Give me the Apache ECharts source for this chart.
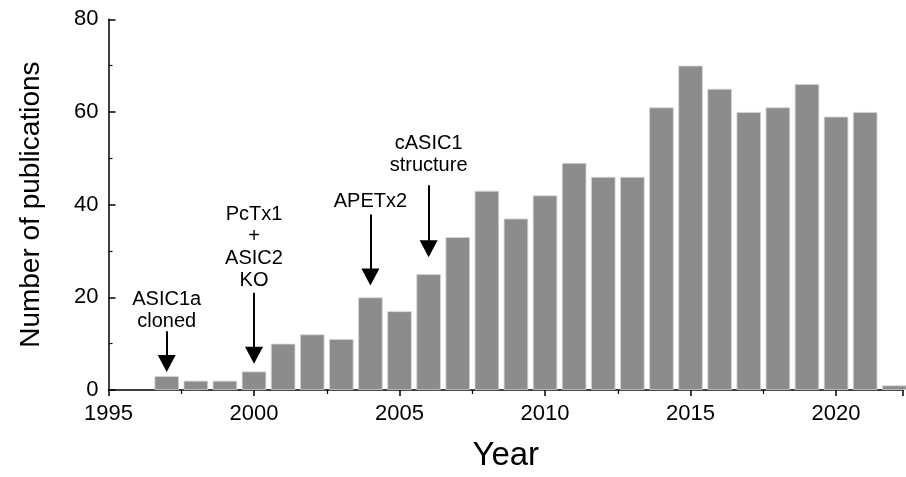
<!DOCTYPE html>
<html>
<head>
<meta charset="utf-8">
<script src="https://cdn.jsdelivr.net/npm/echarts@6/dist/echarts.min.js"></script>
<style>
html,body{margin:0;padding:0;background:#fff;}
#chart{width:906px;height:477px;}
</style>
</head>
<body>
<div id="chart"></div>
<script>
// Data
const years = [1997,1998,1999,2000,2001,2002,2003,2004,2005,2006,2007,2008,2009,2010,2011,2012,2013,2014,2015,2016,2017,2018,2019,2020,2021,2022];
const publications = [3,2,2,4,10,12,11,20,17,25,33,43,37,42,49,46,46,61,70,65,60,61,66,59,60,1];
const xTicks = [1995,2000,2005,2010,2015,2020];

// Annotations: text, year, arrow start value, arrow head value
const annoText = ['ASIC1a\ncloned','PcTx1\n+\nASIC2\nKO','APETx2','cASIC1\nstructure'];
const annoYear = [1997,2000,2004,2006];
const annoFrom = [12.7,21.0,37.9,44.2];
const annoTo = [5.7,7.5,24.4,30.5];
const annoGap = [-1,1,2,9];

const FONT = '"Liberation Sans", Arial, sans-serif';

const markData = annoText.map((t,i)=>[
  {coord:[annoYear[i],annoFrom[i]], label:{show:true, formatter:t, position:'start', distance:annoGap[i]}},
  {coord:[annoYear[i],annoTo[i]]}
]);

const chart = echarts.init(document.getElementById('chart'), null, {renderer:'canvas'});
chart.setOption({
  animation:false,
  backgroundColor:'#fff',
  grid:{left:108.5, right:0, top:19.3, bottom:83.7, containLabel:false},
  xAxis:{
    type:'value', min:1995, max:2022.3, interval:5,
    name:'Year', nameLocation:'middle', nameGap:49,
    nameTextStyle:{fontFamily:FONT, fontSize:33, color:'#000'},
    axisLine:{show:true, onZero:false, lineStyle:{color:'#000', width:1.5}},
    axisTick:{show:true, inside:false, length:6, lineStyle:{color:'#000', width:1.5}},
    minorTick:{show:true, splitNumber:2, length:4, lineStyle:{color:'#000', width:1.2}},
    axisLabel:{fontFamily:FONT, fontSize:22, color:'#000', margin:13,
      formatter:v=> xTicks.indexOf(Math.round(v*10)/10)>=0 ? String(v) : ''},
    splitLine:{show:false}
  },
  yAxis:{
    type:'value', min:0, max:80, interval:20,
    name:'Number of publications', nameLocation:'middle', nameGap:63,
    nameTextStyle:{fontFamily:FONT, fontSize:28, color:'#000'},
    axisLine:{show:true, lineStyle:{color:'#000', width:1.5}},
    axisTick:{show:true, inside:true, length:7, lineStyle:{color:'#000', width:1.5}},
    minorTick:{show:true, splitNumber:2, length:4, lineStyle:{color:'#000', width:1.2}},
    axisLabel:{fontFamily:FONT, fontSize:22, color:'#000', margin:10},
    splitLine:{show:false}
  },
  series:[{
    type:'bar',
    data:years.map((y,i)=>[y,publications[i]]),
    barWidth:24.5,
    itemStyle:{color:'#8c8c8c', borderColor:'#d6d6d6', borderWidth:0.8},
    clip:true,
    markLine:{
      silent:true,
      symbol:['none','triangle'],
      symbolSize:[18,17],
      lineStyle:{color:'#000', width:2, type:'solid'},
      label:{fontFamily:FONT, fontSize:20, color:'#000', lineHeight:22, align:'center'},
      emphasis:{disabled:true},
      data:markData
    }
  }]
});
</script>
</body>
</html>
